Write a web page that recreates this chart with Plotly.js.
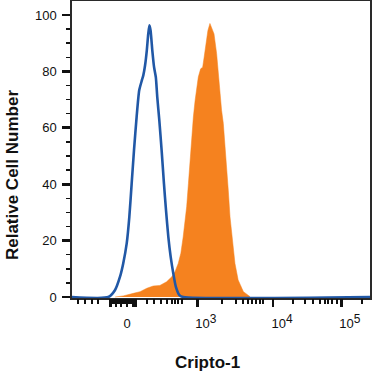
<!DOCTYPE html>
<html>
<head>
<meta charset="utf-8">
<script src="https://cdn.plot.ly/plotly-3.0.1.min.js"></script>
<style>html,body{margin:0;padding:0;background:#fff;}#chart{width:372px;height:373px;}</style>
</head>
<body>
<div id="chart"></div>
<script>
// Display channel (0-1024, biexponential display scale) and relative cell counts
const isotypeChannel = [0, 125, 148, 165, 176, 188, 197, 205, 213, 222, 231, 240, 245, 251, 257, 262, 266, 270, 276, 282, 288, 293, 300, 308, 316, 323, 331, 339, 348, 357, 369, 382, 1024];
const isotypeCount   = [0, 0, 2.5, 7.2, 11.9, 19, 28.4, 40.2, 52, 63.8, 73.3, 76.8, 78.6, 82.1, 87.4, 93.3, 96.3, 94.5, 87.4, 81.5, 78, 70.9, 62.7, 52, 40.2, 30.8, 21.3, 14.3, 8.4, 3.6, 0.7, 0, 0];

const criptoChannel = [148, 176, 211, 234, 257, 279, 302, 325, 343, 354, 365, 374, 382, 388, 394, 400, 406, 411, 417, 423, 429, 434, 442, 449, 454, 461, 467, 474, 488, 497, 503, 509, 514, 520, 526, 532, 537, 543, 552, 560, 571, 589, 612];
const criptoCount   = [0, 0.4, 1.3, 1.9, 3.1, 3.9, 4.1, 5.4, 7.2, 9, 11.9, 15.5, 21.3, 26.1, 32, 40.2, 48.5, 56.7, 63.8, 69.7, 74.4, 78, 80.9, 81.5, 85, 89.8, 94.5, 97, 93.3, 86.3, 80.4, 72.1, 66.2, 61.5, 53.2, 46.1, 37.9, 28.4, 19, 11.9, 6, 1.9, 0.1];

// Axis labelling (channel positions)
const xLabelPos = [189, 460, 722, 955];
const xLabelText = ['0', '10<sup><span style="font-size:12px">3</span></sup>', '10<sup><span style="font-size:12px">4</span></sup>', '10<sup><span style="font-size:12px">5</span></sup>'];
const xMajorTicks = [132, 151, 168, 189, 210, 218, 431, 690, 927];
const xMinorTicks = [21, 45, 69, 89, 129, 134, 139, 144, 150, 155, 160, 165, 170, 175, 180, 186, 191, 196, 201, 206, 211, 217, 222,
  258, 282, 306, 326, 344, 354, 364, 378, 515, 564, 588, 605, 619, 632, 646, 656, 759, 801, 828, 852, 869, 880, 893, 911, 997];

const blue = '#2158a6';
const orange = '#f5821f';

const traces = [
  {x: criptoChannel, y: criptoCount, type: 'scatter', mode: 'lines', fill: 'tozeroy',
   fillcolor: orange, line: {color: orange, width: 0.5}, hoverinfo: 'skip', showlegend: false},
  {x: isotypeChannel, y: isotypeCount, type: 'scatter', mode: 'lines',
   line: {color: blue, width: 2.6, shape: 'spline', smoothing: 0.6}, hoverinfo: 'skip', showlegend: false},
  {x: [0, 1024], y: [0, 0], xaxis: 'x2', type: 'scatter', mode: 'lines', opacity: 0,
   line: {width: 0}, hoverinfo: 'skip', showlegend: false}
];

const layout = {
  width: 372, height: 373,
  margin: {l: 72, r: 2, t: 1, b: 75},
  paper_bgcolor: '#fff', plot_bgcolor: '#fff',
  font: {family: 'Liberation Sans, Arial, sans-serif', color: '#111', size: 13},
  xaxis: {
    range: [0, 1024], fixedrange: true, showgrid: false, zeroline: false,
    showline: true, mirror: true, linecolor: '#2a2a2a', linewidth: 1.5,
    tickmode: 'array', tickvals: xLabelPos, ticktext: xLabelText,
    ticks: 'outside', ticklen: 13, tickcolor: 'rgba(0,0,0,0)',
    tickfont: {size: 13, color: '#111'}
  },
  xaxis2: {
    overlaying: 'x', anchor: 'y', side: 'bottom', range: [0, 1024], fixedrange: true,
    showgrid: false, zeroline: false, showline: false, showticklabels: false,
    tickmode: 'array', tickvals: xMajorTicks,
    ticks: 'outside', ticklen: 8, tickwidth: 2.6, tickcolor: '#111',
    minor: {tickmode: 'array', tickvals: xMinorTicks, ticks: 'outside', ticklen: 4.5, tickwidth: 1.5, tickcolor: '#111', showgrid: false}
  },
  yaxis: {
    range: [-0.35, 104.96], fixedrange: true, showgrid: false, zeroline: false,
    showline: true, mirror: true, linecolor: '#2a2a2a', linewidth: 1.7,
    tickmode: 'linear', tick0: 0, dtick: 20,
    ticks: 'outside', ticklen: 8, tickwidth: 2.8, tickcolor: '#111',
    ticklabelstandoff: 3,
    tickfont: {size: 13, color: '#111'},
    minor: {dtick: 5, tick0: 0, ticks: 'outside', ticklen: 4, tickwidth: 1.5, tickcolor: '#111', showgrid: false}
  },
  annotations: [
    {text: '<b>Relative Cell Number</b>', xref: 'paper', yref: 'paper', x: -0.2013, y: 0.414,
     xanchor: 'center', yanchor: 'middle', textangle: -90, showarrow: false,
     font: {size: 17, color: '#111', family: 'Liberation Sans, Arial, sans-serif'}},
    {text: '<b>Cripto-1</b>', xref: 'paper', yref: 'paper', x: 0.456, y: -0.2155,
     xanchor: 'center', yanchor: 'middle', showarrow: false,
     font: {size: 17, color: '#111', family: 'Liberation Sans, Arial, sans-serif'}}
  ]
};

Plotly.newPlot('chart', traces, layout, {staticPlot: true, displayModeBar: false});
</script>
</body>
</html>
